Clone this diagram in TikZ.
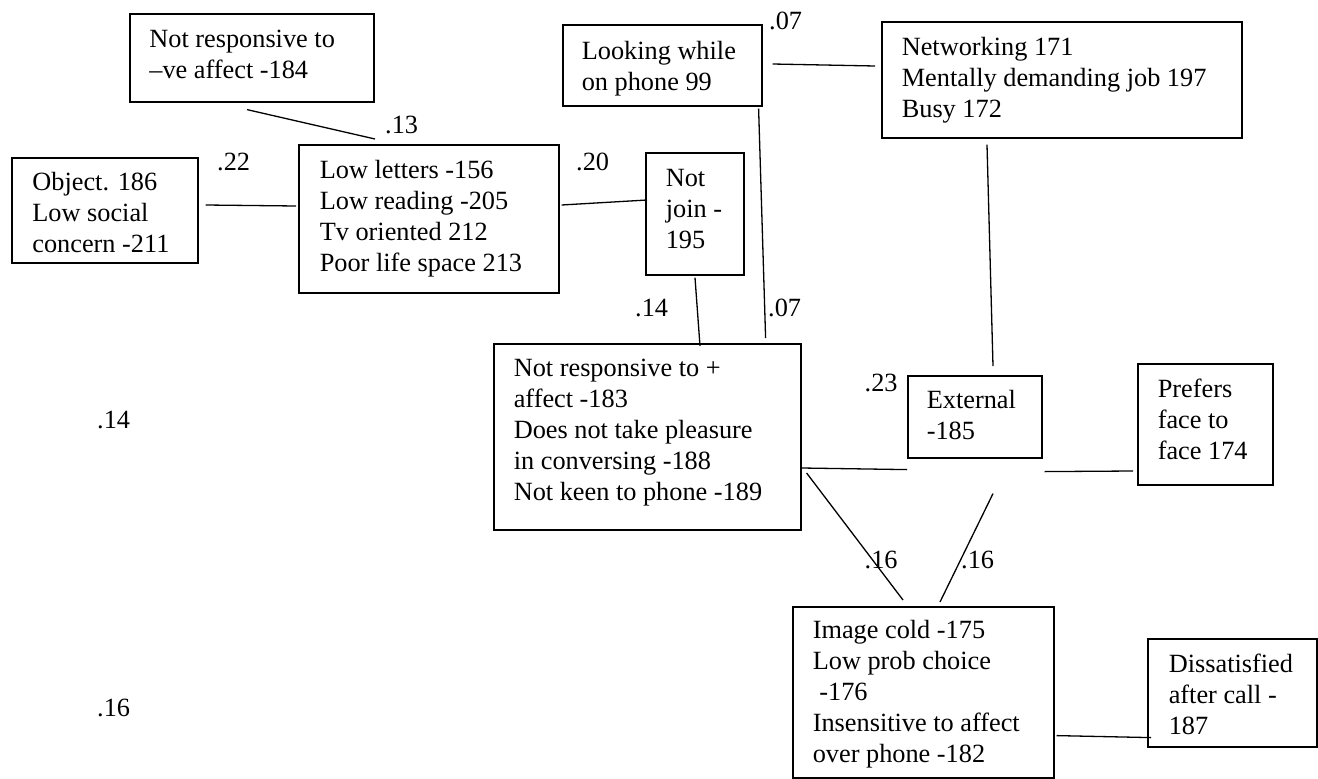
\documentclass[tikz,border=0pt]{standalone}
\usepackage{fontspec}
\setmainfont{Liberation Serif}

% #1 box width, #2 box height, #3 left padding, #4 first baseline below top, #5 lines
\newcommand{\boxtext}[5]{%
  \parbox[c][#2pt][t]{#1pt}{\raggedright\leftskip=#3pt\relax\rule{0pt}{#4pt}#5}}

\tikzset{
  diagbox/.style={draw, line width=1.6pt, inner sep=0pt, anchor=north west,
    font=\fontsize{26.3}{30.8}\selectfont},
  link/.style={line width=1.3pt},
  coef/.style={anchor=base west, inner sep=0pt, font=\fontsize{26.3}{30.8}\selectfont},
}

\begin{document}
\begin{tikzpicture}[x=1pt, y=-1pt]
\useasboundingbox[fill=white] (0,0) rectangle (1318,779);

% boxes
\node[diagbox] (A) at (129,13)  {\boxtext{244}{88}{19.6}{34}{Not responsive to\\–ve affect -184}};
\node[diagbox] (B) at (11,157)  {\boxtext{186}{105}{20.6}{33}{Object. 186\\Low social\\concern -211}};
\node[diagbox] (C) at (298,144) {\boxtext{260}{148}{21}{34}{Low letters -156\\Low reading -205\\Tv oriented 212\\Poor life space 213}};
\node[diagbox] (D) at (645,152) {\boxtext{98}{122}{20}{34}{Not\\join -\\195}};
\node[diagbox] (E) at (562,24)  {\boxtext{199}{81}{19}{35}{Looking while\\on phone 99}};
\node[diagbox] (F) at (881,21)  {\boxtext{360}{116}{20}{34}{Networking 171\\Mentally demanding job 197\\Busy 172}};
\node[diagbox] (G) at (493,343) {\boxtext{307}{186}{20}{33}{Not responsive to +\\affect -183\\Does not take pleasure\\in conversing -188\\Not keen to phone -189}};
\node[diagbox] (H) at (907,375) {\boxtext{134}{82}{19}{33}{External\\-185}};
\node[diagbox] (I) at (1137,363) {\boxtext{135}{121}{20}{34}{Prefers\\face to\\face 174}};
\node[diagbox] (J) at (792,606) {\boxtext{261}{171}{20}{32}{Image cold -175\\Low prob choice\\\hspace*{.25em}-176\\Insensitive to affect\\over phone -182}};
\node[diagbox] (K) at (1147,638) {\boxtext{169}{108}{21}{34}{Dissatisfied\\after call -\\187}};

% connectors
\draw[link] ([xshift=118pt,yshift=-7pt]A.south west) -- ([xshift=77pt,yshift=5pt]C.north west);
\draw[link] ([xshift=7pt,yshift=-48pt]B.north east) -- ([xshift=-2pt,yshift=-62pt]C.north west);
\draw[link] ([xshift=2pt,yshift=-61pt]C.north east) -- ([xshift=2pt,yshift=-48pt]D.north west);
\draw[link] ([xshift=10pt,yshift=-40pt]E.north east) -- ([xshift=-6pt,yshift=-45pt]F.north west);
\draw[link] ([xshift=-4pt,yshift=-2pt]E.south east) -- ([xshift=-36pt,yshift=5pt]G.north east);
\draw[link] ([xshift=50pt,yshift=-2pt]D.south west) -- ([xshift=207pt,yshift=-3pt]G.north west);
\draw[link] ([xshift=106pt,yshift=-6pt]F.south west) -- ([xshift=86pt,yshift=9pt]H.north west);
\draw[link] ([yshift=-125pt]G.north east) -- ([yshift=-11pt]H.south west);
\draw[link] ([xshift=2pt,yshift=-13pt]H.south east) -- ([xshift=-4pt,yshift=-108pt]I.north west);
\draw[link] ([xshift=5pt,yshift=-130pt]G.north east) -- ([xshift=111pt,yshift=6pt]J.north west);
\draw[link] ([xshift=86pt,yshift=-35pt]H.south west) -- ([xshift=148pt,yshift=4pt]J.north west);
\draw[link] ([xshift=2pt,yshift=43pt]J.south east) -- ([xshift=4pt,yshift=10pt]K.south west);

% path coefficients
\node[coef] (c13)  at (385,133) {.13};
\node[coef] (c22)  at (217,170) {.22};
\node[coef] (c20)  at (576,170) {.20};
\node[coef] (c07a) at (769,29)  {.07};
\node[coef] (c14a) at (635,316) {.14};
\node[coef] (c07b) at (768,316) {.07};
\node[coef] (c23)  at (864.5,391) {.23};
\node[coef] (c16a) at (864.5,568) {.16};
\node[coef] (c16b) at (961,568) {.16};
\node[coef] (c14b) at (97,428)  {.14};
\node[coef] (c16c) at (97,716)  {.16};
\end{tikzpicture}
\end{document}
